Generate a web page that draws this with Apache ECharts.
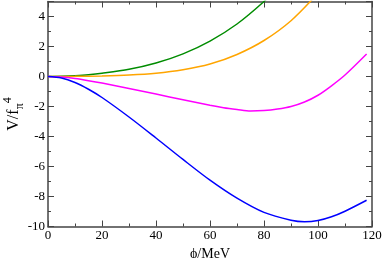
<!DOCTYPE html>
<html><head><meta charset="utf-8">
<script src="https://cdn.jsdelivr.net/npm/echarts@6/dist/echarts.min.js"></script>
<style>html,body{margin:0;padding:0;background:#fff}#c{width:382px;height:258px}</style>
</head><body><div id="c"></div>
<script>
// phi values (MeV) and V/f_pi^4 values
const phiGreen  = [0, 5, 10, 15, 20, 30, 40, 50, 60, 70, 80, 85];
const green     = [0, 0.012, 0.05, 0.11, 0.21, 0.48, 0.9, 1.51, 2.36, 3.5, 5.0, 5.92];
const phiOrange = [0, 10, 20, 30, 40, 50, 60, 70, 80, 90, 100];
const orange    = [0, 0.01, 0.04, 0.1, 0.22, 0.45, 0.83, 1.47, 2.4, 3.72, 5.55];
const phiMag    = [0, 5, 10, 15, 20, 30, 40, 50, 60, 65, 70, 75, 80, 85, 90, 95, 100, 105, 110, 118];
const magenta   = [0, -0.04, -0.14, -0.28, -0.44, -0.8, -1.17, -1.55, -1.92, -2.08, -2.2, -2.3, -2.27, -2.17, -2.0, -1.7, -1.25, -0.62, 0.1, 1.5];
const phiBlue   = [0, 5, 10, 15, 20, 30, 40, 50, 60, 70, 80, 90, 95, 100, 105, 110, 118];
const blue      = [0, -0.1, -0.4, -0.85, -1.4, -2.7, -4.1, -5.53, -6.91, -8.11, -9.06, -9.58, -9.68, -9.6, -9.35, -8.98, -8.25];
const xTicks = [0, 20, 40, 60, 80, 100, 120];
const yTicks = [-10, -8, -6, -4, -2, 0, 2, 4];

const pairs = (xs, ys) => xs.map((x, i) => [x, ys[i]]);
const font = 'Liberation Serif';
const axisCol = '#444';
function mkX(pos, labels) {
  return {
    type: 'value', position: pos, min: 0, max: 120, interval: 20,
    axisLine: {show: true, onZero: false, lineStyle: {color: axisCol, width: 1.5}},
    axisTick: {show: true, inside: true, length: 6, lineStyle: {color: axisCol}},
    minorTick: {show: true, splitNumber: 2, length: 3, lineStyle: {color: axisCol}},
    splitLine: {show: false},
    axisLabel: {show: labels, color: '#000', fontFamily: font, fontSize: 13, margin: 3},
    name: labels ? 'ϕ/MeV' : '', nameLocation: 'middle', nameGap: 17,
    nameTextStyle: {color: '#000', fontFamily: font, fontSize: 14}
  };
}
function mkY(pos, labels) {
  return {
    type: 'value', position: pos, min: -10, max: 5, interval: 2,
    axisLine: {show: true, onZero: false, lineStyle: {color: axisCol, width: 1.5}},
    axisTick: {show: true, inside: true, length: 6, lineStyle: {color: axisCol}},
    minorTick: {show: true, splitNumber: 2, length: 3, lineStyle: {color: axisCol}},
    splitLine: {show: false},
    axisLabel: {show: labels, showMaxLabel: false, color: '#000', fontFamily: font, fontSize: 13, margin: 3},
    name: labels ? 'V/f{sub|π}{sup|4}' : '', nameLocation: 'middle', nameGap: 22,
    nameMoveOverlap: false,
    nameTextStyle: {color: '#000', fontFamily: font, fontSize: 16, lineHeight: 24,
      rich: {sub: {fontSize: 12, fontFamily: font, verticalAlign: 'bottom', color: '#000'},
             sup: {fontSize: 12, fontFamily: font, verticalAlign: 'top', color: '#000'}}}
  };
}
const chart = echarts.init(document.getElementById('c'), null, {renderer: 'canvas'});
const line = (name, data, color) => ({
  name, type: 'line', data, smooth: 0.3, showSymbol: false, clip: true,
  lineStyle: {color, width: 1.5}, xAxisIndex: 0, yAxisIndex: 0
});
chart.setOption({
  animation: false,
  grid: {left: 48, right: 10, top: 1.5, bottom: 31.5, containLabel: false, outerBoundsMode: 'none'},
  xAxis: [mkX('bottom', true), mkX('top', false)],
  yAxis: [mkY('left', true), mkY('right', false)],
  series: [
    line('green', pairs(phiGreen, green), '#008c00'),
    line('orange', pairs(phiOrange, orange), '#ffa500'),
    line('magenta', pairs(phiMag, magenta), '#ff00ff'),
    line('blue', pairs(phiBlue, blue), '#0000ff')
  ]
});
</script></body></html>
